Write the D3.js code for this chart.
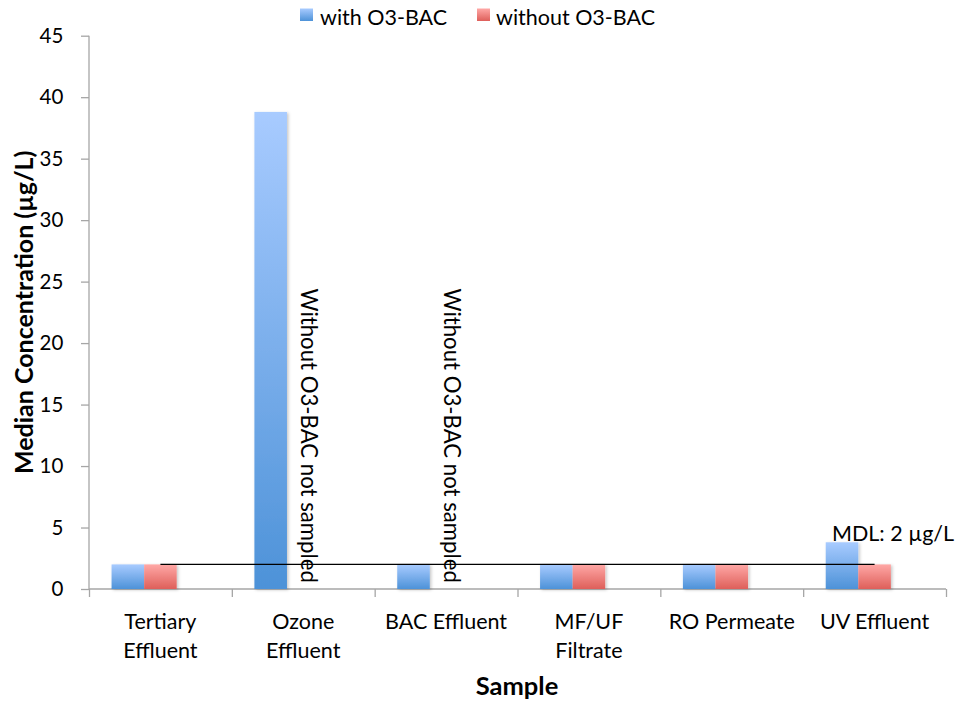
<!DOCTYPE html>
<html><head><meta charset="utf-8">
<script src="https://cdn.jsdelivr.net/npm/d3@7"></script>
<style>body{margin:0;background:#fff}svg{display:block}text{font-family:Lato,"Open Sans",sans-serif;fill:#000}</style>
</head><body><svg id="c" width="955" height="703"></svg>
<script>
const categories = ["Tertiary\nEffluent","Ozone\nEffluent","BAC Effluent","MF/UF\nFiltrate","RO Permeate","UV Effluent"];
const withO3 = [2, 38.8, 2, 2, 2, 3.8];
const withoutO3 = [2, null, null, 2, 2, 2];
const mdl = [2, 2, 2, 2, 2, 2];
const yTicks = [0,5,10,15,20,25,30,35,40,45];
const seriesNames = ["with O3-BAC","without O3-BAC"];
const notSampled = [1, 2]; // category indices where "without" was not sampled

const FS = 21.5;
const svg = d3.select("#c");
const L = 89, R = 946, T = 35.7, B = 589;
const x0 = d3.scaleBand().domain(d3.range(categories.length)).range([L, R]);
const bw = x0.bandwidth();
const x1 = d3.scaleBand().domain(["with","without","hidden"]).range([bw*0.158, bw*0.842]);
const y = d3.scaleLinear().domain([0,45]).range([B, T]);

const defs = svg.append("defs");
function grad(id, c1, c2){
  const g = defs.append("linearGradient").attr("id", id).attr("x1",0).attr("y1",0).attr("x2",0).attr("y2",1);
  g.append("stop").attr("offset","0%").attr("stop-color",c1);
  g.append("stop").attr("offset","100%").attr("stop-color",c2);
}
grad("gb","#a8cbff","#4d92d8");
grad("gr","#ffa8a6","#de5f5a");
const f = defs.append("filter").attr("id","sh").attr("x","-20%").attr("y","-5%").attr("width","150%").attr("height","115%");
f.append("feDropShadow").attr("dx",1.5).attr("dy",1).attr("stdDeviation",1.5).attr("flood-color","#000").attr("flood-opacity",0.22);

// axes
const yAxis = svg.append("g").attr("transform",`translate(${L},0)`)
  .call(d3.axisLeft(y).tickValues(yTicks).tickSize(8).tickPadding(17.7).tickFormat(d3.format("d")));
yAxis.selectAll("path,line").attr("stroke","#a6a6a6").attr("stroke-width",1.3);
yAxis.select("path").attr("d",`M0,${T}V${B}`);
yAxis.selectAll("text").attr("font-size",20.5).attr("font-family","Lato,'Open Sans',sans-serif").attr("fill","#000");

const xAxis = svg.append("g").attr("transform",`translate(0,${B})`)
  .call(d3.axisBottom(d3.scaleLinear().domain([0,categories.length]).range([L,R]))
    .tickValues(d3.range(categories.length+1)).tickSize(8).tickFormat(""));
xAxis.selectAll("path,line").attr("stroke","#a6a6a6").attr("stroke-width",1.3);
xAxis.select("path").attr("d",`M${L},0H${R}`);

// bars
const g = svg.append("g").attr("filter","url(#sh)");
categories.forEach((c,i)=>{
  if (withO3[i]!=null) g.append("rect").attr("x",x0(i)+x1("with")).attr("width",x1.bandwidth())
    .attr("y",y(withO3[i])).attr("height",y(0)-y(withO3[i])).attr("fill","url(#gb)");
  if (withoutO3[i]!=null) g.append("rect").attr("x",x0(i)+x1("without")).attr("width",x1.bandwidth())
    .attr("y",y(withoutO3[i])).attr("height",y(0)-y(withoutO3[i])).attr("fill","url(#gr)");
});

// MDL line
const line = d3.line().x((d,i)=>x0(i)+bw/2).y(d=>y(d));
svg.append("path").attr("d",line(mdl)).attr("fill","none").attr("stroke","#000").attr("stroke-width",1.3);
svg.append("text").attr("x",832).attr("y",541).attr("font-size",FS).text("MDL: 2 µg/L");

// not sampled labels
notSampled.forEach(i=>{
  const cx = x0(i)+x1("without")+14.5;
  svg.append("text").attr("transform",`translate(${cx},${y(0.5)}) rotate(90)`)
    .attr("text-anchor","end").attr("font-size",22.2).text("Without O3-BAC not sampled");
});

// x tick labels
categories.forEach((c,i)=>{
  const t = svg.append("text").attr("x",x0(i)+bw/2).attr("y",629).attr("text-anchor","middle").attr("font-size",FS);
  c.split("\n").forEach((s,k)=>t.append("tspan").attr("x",x0(i)+bw/2).attr("dy",k?29:0).text(s));
});

// axis titles
svg.append("text").attr("x",517).attr("y",695).attr("text-anchor","middle").attr("font-size",25.5).attr("font-weight","bold").text("Sample");
svg.append("text").attr("transform",`translate(33,${(T+B)/2}) rotate(-90)`).attr("text-anchor","middle")
  .attr("font-size",25).attr("font-weight","bold").text("Median Concentration (µg/L)");

// legend
const lg = svg.append("g");
lg.append("rect").attr("x",300).attr("y",8.5).attr("width",13).attr("height",12.5).attr("fill","url(#gb)");
lg.append("text").attr("x",320).attr("y",25).attr("font-size",FS).text(seriesNames[0]);
lg.append("rect").attr("x",477).attr("y",8.5).attr("width",13).attr("height",12.5).attr("fill","url(#gr)");
lg.append("text").attr("x",496).attr("y",25).attr("font-size",FS).text(seriesNames[1]);
</script></body></html>
